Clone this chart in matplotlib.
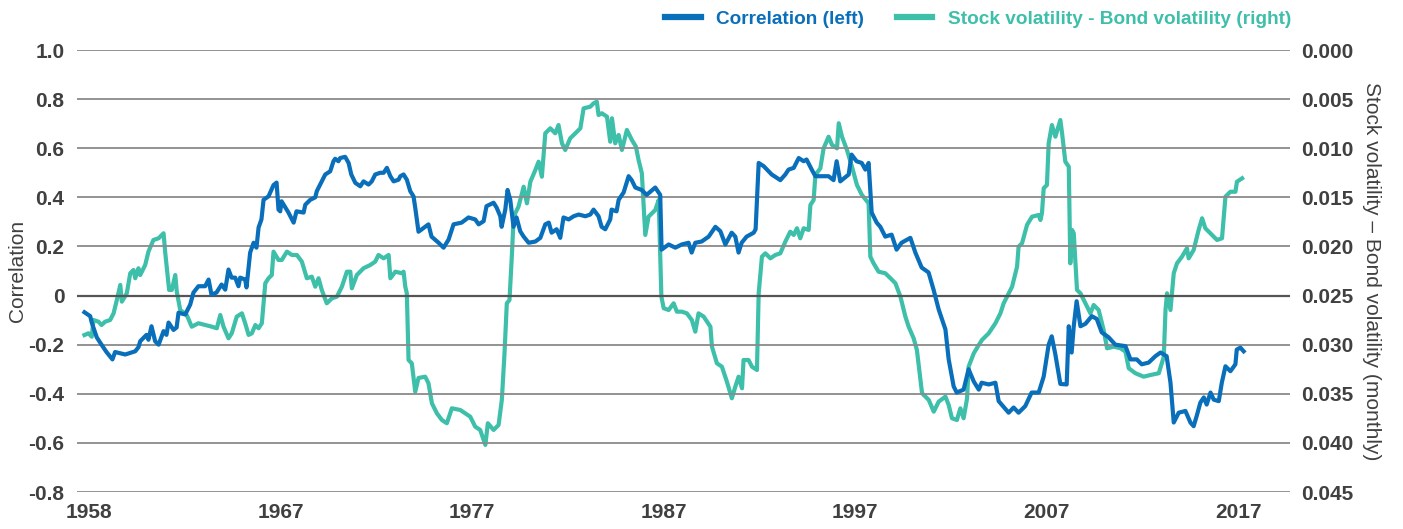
import matplotlib
matplotlib.use("Agg")
import matplotlib.pyplot as plt
from matplotlib import font_manager

# Correlation (left axis) - decimal year, value
corr_years = [
    1956.76, 1957.06, 1957.14, 1957.40, 1957.65, 1957.91, 1958.22, 1958.36, 1958.89, 1959.41,
    1959.58, 1959.67, 1960.00, 1960.10, 1960.26, 1960.45, 1960.63, 1960.89, 1961.04, 1961.15,
    1961.41, 1961.57, 1961.67, 1962.02, 1962.28, 1962.45, 1962.71, 1963.06, 1963.24, 1963.39,
    1963.65, 1963.92, 1964.11, 1964.28, 1964.44, 1964.63, 1964.80, 1964.89, 1965.15, 1965.22,
    1965.41, 1965.59, 1965.74, 1965.85, 1966.00, 1966.11, 1966.37, 1966.63, 1966.79, 1966.89,
    1966.98, 1967.05, 1967.41, 1967.68, 1967.83, 1968.20, 1968.29, 1968.55, 1968.81, 1968.89,
    1969.15, 1969.33, 1969.59, 1969.76, 1969.85, 1970.02, 1970.11, 1970.37, 1970.55, 1970.69,
    1970.90, 1971.16, 1971.33, 1971.59, 1971.76, 1971.94, 1972.20, 1972.38, 1972.55, 1972.73,
    1972.90, 1973.16, 1973.25, 1973.42, 1973.59, 1973.77, 1973.94, 1974.03, 1974.20, 1974.55,
    1974.72, 1974.88, 1975.25, 1975.51, 1975.77, 1976.03, 1976.45, 1976.81, 1977.16, 1977.34,
    1977.60, 1977.75, 1978.12, 1978.28, 1978.47, 1978.54, 1978.73, 1978.85, 1978.99, 1979.16,
    1979.32, 1979.51, 1979.69, 1979.95, 1980.30, 1980.56, 1980.82, 1981.00, 1981.15, 1981.41,
    1981.60, 1981.77, 1982.04, 1982.30, 1982.56, 1982.91, 1983.17, 1983.34, 1983.60, 1983.76,
    1983.95, 1984.21, 1984.28, 1984.54, 1984.65, 1984.91, 1985.17, 1985.33, 1985.52, 1985.85,
    1986.11, 1986.56, 1986.82, 1986.89, 1987.26, 1987.61, 1987.94, 1988.30, 1988.46, 1988.65,
    1988.98, 1989.35, 1989.70, 1989.96, 1990.22, 1990.55, 1990.74, 1990.91, 1991.07, 1991.33,
    1991.70, 1991.80, 1991.96, 1992.22, 1992.64, 1993.09, 1993.35, 1993.52, 1993.79, 1994.05,
    1994.31, 1994.46, 1994.73, 1994.92, 1995.61, 1995.87, 1996.03, 1996.22, 1996.66, 1996.81,
    1997.07, 1997.34, 1997.53, 1997.70, 1997.86, 1998.12, 1998.31, 1998.57, 1998.90, 1999.16,
    1999.42, 1999.88, 2000.14, 2000.47, 2000.83, 2001.09, 2001.36, 2001.71, 2001.88, 2002.14,
    2002.30, 2002.66, 2002.92, 2003.19, 2003.45, 2003.60, 2003.97, 2004.32, 2004.49, 2005.01,
    2005.27, 2005.53, 2005.88, 2006.21, 2006.58, 2006.84, 2007.10, 2007.26, 2007.45, 2007.71,
    2008.04, 2008.15, 2008.30, 2008.41, 2008.56, 2008.76, 2009.02, 2009.35, 2009.61, 2009.87,
    2010.23, 2010.58, 2011.11, 2011.37, 2011.70, 2011.96, 2012.32, 2012.67, 2012.94, 2013.26,
    2013.46, 2013.63, 2013.89, 2014.24, 2014.50, 2014.67, 2014.83, 2015.02, 2015.20, 2015.35,
    2015.55, 2015.72, 2015.98, 2016.14, 2016.33, 2016.59, 2016.85, 2016.92, 2017.11, 2017.28,
]
corr_values = [
    -0.068, -0.084, -0.110, -0.170, -0.200, -0.230, -0.260, -0.230, -0.240, -0.227,
    -0.210, -0.186, -0.160, -0.180, -0.125, -0.186, -0.200, -0.145, -0.160, -0.110,
    -0.140, -0.130, -0.070, -0.077, -0.037, 0.012, 0.038, 0.038, 0.065, 0.004,
    0.012, 0.045, 0.024, 0.106, 0.073, 0.073, 0.038, 0.073, 0.065, 0.033,
    0.175, 0.215, 0.195, 0.277, 0.310, 0.390, 0.404, 0.450, 0.460, 0.350,
    0.343, 0.384, 0.338, 0.297, 0.343, 0.338, 0.370, 0.390, 0.400, 0.425,
    0.465, 0.493, 0.506, 0.547, 0.557, 0.547, 0.560, 0.565, 0.540, 0.493,
    0.459, 0.445, 0.465, 0.452, 0.465, 0.493, 0.500, 0.500, 0.520, 0.486,
    0.465, 0.472, 0.486, 0.493, 0.472, 0.425, 0.404, 0.357, 0.260, 0.280,
    0.290, 0.240, 0.215, 0.195, 0.228, 0.290, 0.297, 0.318, 0.310, 0.290,
    0.303, 0.364, 0.378, 0.358, 0.323, 0.280, 0.350, 0.430, 0.390, 0.280,
    0.318, 0.262, 0.240, 0.215, 0.220, 0.235, 0.290, 0.297, 0.256, 0.270,
    0.235, 0.318, 0.310, 0.323, 0.330, 0.323, 0.330, 0.350, 0.323, 0.280,
    0.270, 0.310, 0.350, 0.343, 0.390, 0.420, 0.486, 0.470, 0.440, 0.430,
    0.410, 0.440, 0.410, 0.187, 0.208, 0.195, 0.208, 0.215, 0.175, 0.215,
    0.220, 0.240, 0.280, 0.262, 0.208, 0.256, 0.240, 0.175, 0.215, 0.240,
    0.256, 0.270, 0.540, 0.527, 0.493, 0.470, 0.493, 0.513, 0.520, 0.560,
    0.547, 0.554, 0.513, 0.486, 0.486, 0.470, 0.547, 0.465, 0.493, 0.574,
    0.547, 0.540, 0.513, 0.540, 0.338, 0.297, 0.280, 0.240, 0.248, 0.187,
    0.215, 0.235, 0.175, 0.114, 0.094, 0.024, -0.057, -0.138, -0.260, -0.370,
    -0.395, -0.383, -0.300, -0.350, -0.383, -0.355, -0.362, -0.355, -0.430, -0.477,
    -0.456, -0.477, -0.450, -0.395, -0.395, -0.330, -0.200, -0.166, -0.240, -0.360,
    -0.362, -0.125, -0.232, -0.125, -0.023, -0.125, -0.115, -0.084, -0.095, -0.150,
    -0.170, -0.200, -0.206, -0.260, -0.260, -0.280, -0.273, -0.247, -0.232, -0.247,
    -0.355, -0.517, -0.477, -0.470, -0.517, -0.532, -0.490, -0.436, -0.415, -0.444,
    -0.395, -0.424, -0.430, -0.355, -0.288, -0.308, -0.280, -0.220, -0.212, -0.227,
]

# Stock volatility - Bond volatility (right axis, inverted)
vol_years = [
    1956.76, 1956.97, 1957.14, 1957.23, 1957.49, 1957.65, 1957.84, 1958.10, 1958.28, 1958.45,
    1958.63, 1958.71, 1958.97, 1959.15, 1959.32, 1959.41, 1959.58, 1959.67, 1959.93, 1960.10,
    1960.36, 1960.63, 1960.89, 1960.98, 1961.18, 1961.32, 1961.50, 1961.58, 1961.76, 1962.10,
    1962.36, 1962.71, 1963.06, 1963.41, 1963.67, 1963.85, 1964.02, 1964.28, 1964.45, 1964.71,
    1964.98, 1965.15, 1965.33, 1965.50, 1965.68, 1965.85, 1966.02, 1966.20, 1966.37, 1966.54,
    1966.63, 1966.89, 1967.06, 1967.33, 1967.59, 1967.85, 1968.11, 1968.37, 1968.63, 1968.81,
    1968.98, 1969.15, 1969.41, 1969.68, 1969.94, 1970.20, 1970.46, 1970.64, 1970.72, 1970.98,
    1971.33, 1971.68, 1971.94, 1972.11, 1972.38, 1972.64, 1972.73, 1972.99, 1973.33, 1973.42,
    1973.51, 1973.59, 1973.68, 1973.85, 1974.03, 1974.20, 1974.55, 1974.72, 1974.90, 1975.16,
    1975.42, 1975.68, 1975.94, 1976.38, 1976.64, 1976.90, 1977.16, 1977.42, 1977.69, 1977.82,
    1978.12, 1978.38, 1978.55, 1978.69, 1978.81, 1978.95, 1979.08, 1979.16, 1979.25, 1979.42,
    1979.69, 1979.86, 1980.04, 1980.30, 1980.47, 1980.64, 1980.82, 1981.08, 1981.34, 1981.51,
    1981.69, 1981.86, 1982.12, 1982.39, 1982.65, 1982.82, 1983.17, 1983.34, 1983.51, 1983.60,
    1983.77, 1984.04, 1984.21, 1984.30, 1984.47, 1984.65, 1984.82, 1985.08, 1985.34, 1985.55,
    1985.69, 1985.86, 1986.04, 1986.21, 1986.39, 1986.56, 1986.74, 1986.88, 1987.00, 1987.26,
    1987.52, 1987.69, 1987.95, 1988.21, 1988.47, 1988.65, 1988.82, 1989.09, 1989.44, 1989.52,
    1989.78, 1990.04, 1990.30, 1990.56, 1990.74, 1990.91, 1991.09, 1991.17, 1991.43, 1991.61,
    1991.87, 1991.96, 1992.13, 1992.31, 1992.57, 1992.83, 1993.09, 1993.35, 1993.61, 1993.79,
    1993.96, 1994.13, 1994.31, 1994.57, 1994.66, 1994.83, 1994.92, 1995.18, 1995.35, 1995.61,
    1995.79, 1996.05, 1996.14, 1996.31, 1996.57, 1996.83, 1997.09, 1997.35, 1997.70, 1997.79,
    1997.96, 1998.22, 1998.57, 1998.84, 1999.10, 1999.36, 1999.62, 1999.79, 2000.05, 2000.22,
    2000.49, 2000.84, 2001.10, 2001.36, 2001.71, 2001.88, 2002.05, 2002.31, 2002.49, 2002.66,
    2002.84, 2002.92, 2003.19, 2003.45, 2003.62, 2003.97, 2004.32, 2004.58, 2004.75, 2005.19,
    2005.45, 2005.53, 2005.71, 2005.97, 2006.23, 2006.58, 2006.67, 2006.75, 2006.84, 2007.01,
    2007.10, 2007.27, 2007.45, 2007.71, 2007.80, 2007.97, 2008.15, 2008.23, 2008.32, 2008.41,
    2008.58, 2008.76, 2009.02, 2009.28, 2009.45, 2009.71, 2009.97, 2010.15, 2010.50, 2010.85,
    2011.11, 2011.28, 2011.63, 2012.06, 2012.41, 2012.85, 2013.11, 2013.20, 2013.28, 2013.46,
    2013.63, 2013.80, 2014.06, 2014.32, 2014.41, 2014.67, 2014.93, 2015.11, 2015.28, 2015.63,
    2015.89, 2016.15, 2016.33, 2016.59, 2016.85, 2016.93, 2017.20,
]
vol_values = [
    0.02902, 0.02884, 0.02919, 0.02749, 0.02766, 0.02800, 0.02766, 0.02749, 0.02681, 0.02545,
    0.02392, 0.02562, 0.02477, 0.02273, 0.02240, 0.02324, 0.02222, 0.02291, 0.02189, 0.02053,
    0.01934, 0.01917, 0.01866, 0.02070, 0.02443, 0.02443, 0.02291, 0.02461, 0.02647, 0.02698,
    0.02817, 0.02782, 0.02800, 0.02817, 0.02833, 0.02698, 0.02817, 0.02935, 0.02884, 0.02715,
    0.02681, 0.02782, 0.02901, 0.02884, 0.02800, 0.02833, 0.02782, 0.02375, 0.02324, 0.02291,
    0.02053, 0.02138, 0.02138, 0.02053, 0.02087, 0.02087, 0.02155, 0.02324, 0.02308, 0.02410,
    0.02324, 0.02443, 0.02579, 0.02528, 0.02511, 0.02410, 0.02257, 0.02257, 0.02426, 0.02291,
    0.02222, 0.02189, 0.02155, 0.02087, 0.02121, 0.02087, 0.02324, 0.02257, 0.02273, 0.02257,
    0.02410, 0.02477, 0.03156, 0.03190, 0.03479, 0.03339, 0.03326, 0.03393, 0.03597, 0.03699,
    0.03767, 0.03800, 0.03648, 0.03665, 0.03699, 0.03733, 0.03835, 0.03868, 0.04021, 0.03800,
    0.03868, 0.03818, 0.03563, 0.03088, 0.02579, 0.02545, 0.02070, 0.01731, 0.01662, 0.01595,
    0.01392, 0.01561, 0.01341, 0.01222, 0.01137, 0.01290, 0.00848, 0.00797, 0.00848, 0.00764,
    0.00950, 0.01018, 0.00899, 0.00848, 0.00797, 0.00594, 0.00577, 0.00543, 0.00526, 0.00662,
    0.00644, 0.00679, 0.00934, 0.00695, 0.00950, 0.00865, 0.01018, 0.00814, 0.00916, 0.00984,
    0.01120, 0.01255, 0.01883, 0.01697, 0.01662, 0.01629, 0.01527, 0.02511, 0.02629, 0.02647,
    0.02579, 0.02664, 0.02664, 0.02681, 0.02749, 0.02868, 0.02681, 0.02715, 0.02817, 0.03020,
    0.03190, 0.03224, 0.03377, 0.03546, 0.03428, 0.03326, 0.03444, 0.03156, 0.03156, 0.03224,
    0.03258, 0.02477, 0.02104, 0.02070, 0.02121, 0.02087, 0.02070, 0.01952, 0.01850, 0.01883,
    0.01815, 0.01917, 0.01815, 0.01832, 0.01578, 0.01527, 0.01273, 0.01204, 0.01001, 0.00883,
    0.00967, 0.01001, 0.00746, 0.00883, 0.01018, 0.01188, 0.01374, 0.01476, 0.01561, 0.02104,
    0.02172, 0.02257, 0.02273, 0.02324, 0.02375, 0.02511, 0.02715, 0.02817, 0.02935, 0.03054,
    0.03495, 0.03563, 0.03682, 0.03580, 0.03529, 0.03614, 0.03749, 0.03767, 0.03648, 0.03749,
    0.03546, 0.03224, 0.03088, 0.03003, 0.02952, 0.02884, 0.02782, 0.02681, 0.02579, 0.02410,
    0.02206, 0.02002, 0.01968, 0.01781, 0.01697, 0.01680, 0.01731, 0.01662, 0.01408, 0.01374,
    0.00950, 0.00764, 0.00883, 0.00713, 0.00848, 0.01137, 0.01188, 0.02172, 0.01832, 0.01866,
    0.02443, 0.02477, 0.02579, 0.02681, 0.02596, 0.02647, 0.02850, 0.03037, 0.03020, 0.03037,
    0.03071, 0.03240, 0.03291, 0.03326, 0.03309, 0.03291, 0.03122, 0.02647, 0.02477, 0.02647,
    0.02273, 0.02172, 0.02104, 0.02019, 0.02121, 0.02036, 0.01832, 0.01713, 0.01815, 0.01883,
    0.01934, 0.01917, 0.01493, 0.01443, 0.01443, 0.01341, 0.01306,
]

tick_pos = [1957, 1967, 1977, 1987, 1997, 2007, 2017]
tick_labels = ["1958", "1967", "1977", "1987", "1997", "2007", "2017"]
left_ticks = [-0.8, -0.6, -0.4, -0.2, 0, 0.2, 0.4, 0.6, 0.8, 1.0]
left_labels = ["-0.8", "-0.6", "-0.4", "-0.2", "0", "0.2", "0.4", "0.6", "0.8", "1.0"]
right_ticks = [0.000, 0.005, 0.010, 0.015, 0.020, 0.025, 0.030, 0.035, 0.040, 0.045]

BLUE = "#0a6fba"
TEAL = "#3dbfa9"
TXT = "#404040"

installed = {f.name for f in font_manager.fontManager.ttflist}
narrow = "Liberation Sans Narrow" if "Liberation Sans Narrow" in installed else "Liberation Sans"
plt.rcParams["font.family"] = [narrow, "DejaVu Sans"]

fig = plt.figure(figsize=(14.03, 5.29), dpi=100)
ax = fig.add_axes([77 / 1403, 1 - 492 / 529, (1290 - 77) / 1403, 442 / 529])
ax2 = ax.twinx()

ax.set_xlim(1956.37, 2019.7)
ax.set_ylim(-0.8, 1.0)
ax2.set_ylim(0.045, 0.0)

for t in left_ticks:
    if t == 0:
        ax.axhline(t, color="#555555", lw=1.6, zorder=1)
    else:
        ax.axhline(t, color="#8a8a8a", lw=1.3, zorder=1)

# correlation is drawn on the left scale, volatility on the right scale
line_corr, = ax.plot(corr_years, corr_values, color=BLUE, lw=3.0, zorder=3,
                     solid_joinstyle="round", label="Correlation (left)")
line_vol, = ax2.plot(vol_years, vol_values, color=TEAL, lw=3.0, zorder=2,
                     solid_joinstyle="round", label="Stock volatility - Bond volatility (right)")
ax.set_zorder(ax2.get_zorder() + 1)
ax.patch.set_visible(False)

for a in (ax, ax2):
    for s in a.spines.values():
        s.set_visible(False)
    a.tick_params(length=0, colors=TXT, labelsize=15)

ax.set_yticks(left_ticks)
ax.set_yticklabels(left_labels, fontweight="bold")
ax.tick_params(axis="y", pad=9)
ax2.set_yticks(right_ticks)
ax2.set_yticklabels([f"{v:.3f}" for v in right_ticks], fontweight="bold")
ax2.tick_params(axis="y", pad=8)
ax.set_xticks(tick_pos)
ax.set_xticklabels(tick_labels, fontweight="bold")
ax.tick_params(axis="x", pad=8)

ax.set_ylabel("Correlation", fontsize=15, color=TXT)
ax.yaxis.set_label_coords(-0.041, 0.5)
ax2.set_ylabel("Stock volatility \u2013 Bond volatility (monthly)", fontsize=15,
               color=TXT, rotation=-90, labelpad=20)

fig.legend(handles=[line_corr, line_vol], loc="upper right",
           bbox_to_anchor=(1308 / 1403, 1.013), ncol=2, frameon=False,
           labelcolor="linecolor", handlelength=1.85, handletextpad=0.8,
           columnspacing=1.75, prop={"weight": "bold", "size": 13.7})
for h in fig.legends[0].legend_handles:
    h.set_linewidth(4.5)

fig.savefig("out.png", dpi=100)
